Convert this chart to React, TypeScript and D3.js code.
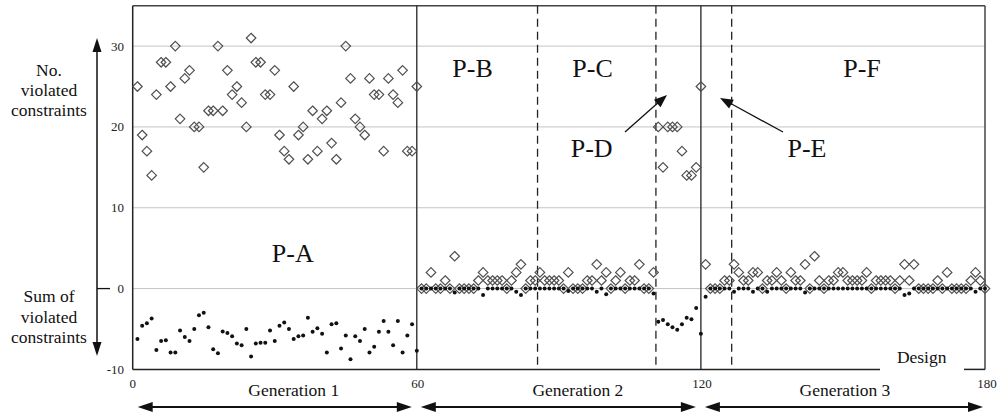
import React from "react";
import * as d3 from "d3";

// Designs 1-60, 61-120, 121-180
const gen1Violated = [25,19,17,14,24,28,28,25,30,21, 26,27,20,20,15,22,22,30,22,27, 24,25,23,20,31,28,28,24,24,27, 19,17,16,25,19,20,16,22,17,21, 22,18,16,23,30,26,21,20,19,26, 24,24,17,26,24,23,27,17,17,25];
const gen1Sum = [-6.25,-4.6,-4.3,-3.7,-7.6,-6.5,-6.4,-7.9,-7.9,-5.2, -6.0,-6.5,-5.0,-3.3,-3.0,-4.8,-7.5,-8.0,-5.3,-5.5, -5.9,-6.8,-7.0,-5.0,-8.4,-6.8,-6.7,-6.7,-5.2,-6.5, -4.6,-4.2,-5.0,-6.25,-5.9,-5.8,-3.6,-5.35,-4.9,-5.6, -7.9,-4.4,-4.3,-7.4,-5.8,-8.75,-5.9,-6.5,-5.0,-7.9, -7.2,-5.35,-4.0,-5.35,-7.0,-4.0,-7.9,-5.8,-4.4,-7.7];
const gen2Violated = [0,0,2,0,0,1,0,4,0,0, 0,0,1,2,1,1,1,1,0,1, 2,3,0,1,1,2,1,1,1,1, 0,2,0,0,0,1,1,3,1,2, 0,1,2,0,1,1,3,0,0,2, 20,15,20,20,20,17,14,14,15,25];
const gen2Sum = [0,0,0,0,0,0,0,-0.5,0,0, 0,0,0,-0.8,0,0,0,0,0,0, -0.4,-0.8,0,0,0,0,0,0,0,0, 0,-0.3,0,0,0,0,0,-0.4,0,-0.7, 0,0,0,0,0,0,0,0,0,-0.6, -4.1,-3.9,-4.4,-4.8,-5.1,-4.4,-3.6,-3.8,-2.4,-5.6];
const gen3Violated = [3,0,0,0,1,1,3,2,1,1, 2,2,0,1,1,2,1,0,2,1, 1,3,0,4,1,0,1,1,2,2, 1,1,1,1,2,0,1,1,1,1, 0,1,3,1,3,0,0,0,0,1, 0,2,0,0,0,0,1,2,1,0];
const gen3Sum = [-1.0,0,0,0,0,0,-0.4,0,0,0, -0.4,0,0,-0.4,0,0,0,0,0,0, 0,-0.5,0,0,0,0,0,0,0,0, 0,0,0,0,0,0,0,0,0,0, 0,0,-0.8,-0.6,0,0,0,0,0,0, 0,0,0,0,0,0,0,-0.4,0,0];

const yTicks = [-10, 0, 10, 20, 30];
const xTicks = [0, 60, 120, 180];
const gridValues = [0, 10, 20, 30];
const solidSplits = [60, 120];
const dashedSplits = [85.5, 110.5, 126.5];
const generations = [
  { label: "Generation 1", from: 0, to: 60 },
  { label: "Generation 2", from: 60, to: 120 },
  { label: "Generation 3", from: 120, to: 180 },
];
const phaseLabels = [
  { label: "P-A", x: 292.8, y: 261.7 },
  { label: "P-B", x: 472.5, y: 77.3 },
  { label: "P-C", x: 592.5, y: 77.3 },
  { label: "P-D", x: 591.7, y: 156.7 },
  { label: "P-E", x: 807, y: 156.7 },
  { label: "P-F", x: 862, y: 77.3 },
];

const FONT = "Liberation Serif, Times New Roman, Tinos, DejaVu Serif, serif";

function arrowHead(x1: number, y1: number, x2: number, y2: number, len = 13, half = 4.5) {
  const a = Math.atan2(y2 - y1, x2 - x1);
  const bx = x2 - len * Math.cos(a);
  const by = y2 - len * Math.sin(a);
  const px = -Math.sin(a) * half;
  const py = Math.cos(a) * half;
  return `M${x2},${y2}L${bx + px},${by + py}L${bx - px},${by - py}Z`;
}

export default function App() {
  const x = d3.scaleLinear().domain([0, 180]).range([132.7, 985]);
  const y = d3.scaleLinear().domain([-10, 35]).range([369.4, 5.7]);

  const violated = [...gen1Violated, ...gen2Violated, ...gen3Violated].map((v, i) => ({ d: i + 1, v }));
  const sums = [...gen1Sum, ...gen2Sum, ...gen3Sum].map((v, i) => ({ d: i + 1, v }));

  const diamond = d3.symbol().type(d3.symbolDiamond2).size(58)();
  const top = y(35);
  const bottom = y(-10);
  const left = x(0);
  const right = x(180);

  return (
    <svg width={1001} height={414} style={{ position: "absolute", left: 0, top: 0, background: "#fff", fontFamily: FONT }}>
      <rect width={1001} height={414} fill="#fff" />
      {gridValues.map((g) => (
        <line key={g} x1={left} x2={right} y1={y(g)} y2={y(g)} stroke="#c4c4c4" strokeWidth={1} />
      ))}
      <line x1={left} x2={right} y1={top} y2={top} stroke="#444" strokeWidth={1.5} />
      <line x1={right} x2={right} y1={top} y2={bottom} stroke="#444" strokeWidth={1.5} />
      <line x1={left} x2={left} y1={top} y2={bottom} stroke="#222" strokeWidth={1.5} />
      <line x1={left} x2={880} y1={bottom} y2={bottom} stroke="#222" strokeWidth={1.5} />
      <line x1={964} x2={right} y1={bottom} y2={bottom} stroke="#222" strokeWidth={1.5} />
      {solidSplits.map((s) => (
        <line key={s} x1={x(s)} x2={x(s)} y1={top} y2={bottom} stroke="#222" strokeWidth={1.3} />
      ))}
      {dashedSplits.map((s) => (
        <line key={s} x1={x(s)} x2={x(s)} y1={top} y2={bottom} stroke="#222" strokeWidth={1.3} strokeDasharray="8,5" />
      ))}
      {violated.map((p) => (
        <path key={"v" + p.d} d={diamond || ""} transform={`translate(${x(p.d)},${y(p.v)})`} fill="none" stroke="#505050" strokeWidth={1.2} />
      ))}
      {sums.map((p) => (
        <circle key={"s" + p.d} cx={x(p.d)} cy={y(p.v)} r={2} fill="#111" />
      ))}
      {yTicks.map((t) => (
        <text key={t} x={124} y={y(t)} dy="0.35em" textAnchor="end" fontFamily={FONT} fontSize={13} fill="#222">
          {t}
        </text>
      ))}
      {xTicks.map((t) => (
        <text key={t} x={x(t) + (t === 0 ? 0 : t === 180 ? 2 : 1)} y={387.5} textAnchor="middle" fontFamily={FONT} fontSize={13} fill="#222">
          {t}
        </text>
      ))}
      <text x={921.7} y={363} textAnchor="middle" fontFamily={FONT} fontSize={17.5} fill="#111">Design</text>
      {generations.map((g) => {
        const x1 = x(g.from) + (g.from === 0 ? 5 : 4);
        const x2 = x(g.to) - (g.to === 180 ? 2 : 5);
        return (
          <g key={g.label}>
            <text x={(x(g.from) + x(g.to)) / 2 + (g.from === 0 ? 19 : g.from === 60 ? 19 : 2)} y={396} textAnchor="middle" fontFamily={FONT} fontSize={17.5} fill="#111">
              {g.label}
            </text>
            <line x1={x1 + 8} x2={x2 - 8} y1={407} y2={407} stroke="#111" strokeWidth={2} />
            <path d={arrowHead(x2, 407, x1, 407, 15, 5)} fill="#111" />
            <path d={arrowHead(x1, 407, x2, 407, 15, 5)} fill="#111" />
          </g>
        );
      })}
      <line x1={97} x2={97} y1={50} y2={345} stroke="#111" strokeWidth={1.5} />
      <path d={arrowHead(97, 200, 97, 38, 14, 4.5)} fill="#111" />
      <path d={arrowHead(97, 200, 97, 356, 14, 4.5)} fill="#111" />
      <line x1={97} x2={110} y1={y(0)} y2={y(0)} stroke="#111" strokeWidth={1.3} />
      {["No.", "violated", "constraints"].map((t, i) => (
        <text key={"n" + i} x={49} y={76 + i * 20} textAnchor="middle" fontFamily={FONT} fontSize={17.5} fill="#111">{t}</text>
      ))}
      {["Sum of", "violated", "constraints"].map((t, i) => (
        <text key={"s" + i} x={49} y={301.7 + i * 20.8} textAnchor="middle" fontFamily={FONT} fontSize={17.5} fill="#111">{t}</text>
      ))}
      {phaseLabels.map((p) => (
        <text key={p.label} x={p.x} y={p.y} textAnchor="middle" fontFamily={FONT} fontSize={26} fill="#111">{p.label}</text>
      ))}
      <line x1={625} y1={132} x2={660} y2={101} stroke="#111" strokeWidth={1.3} />
      <path d={arrowHead(625, 132, 667, 95, 13, 5)} fill="#111" />
      <line x1={783} y1={132} x2={728} y2={102} stroke="#111" strokeWidth={1.3} />
      <path d={arrowHead(783, 132, 720, 98, 13, 5)} fill="#111" />
    </svg>
  );
}
